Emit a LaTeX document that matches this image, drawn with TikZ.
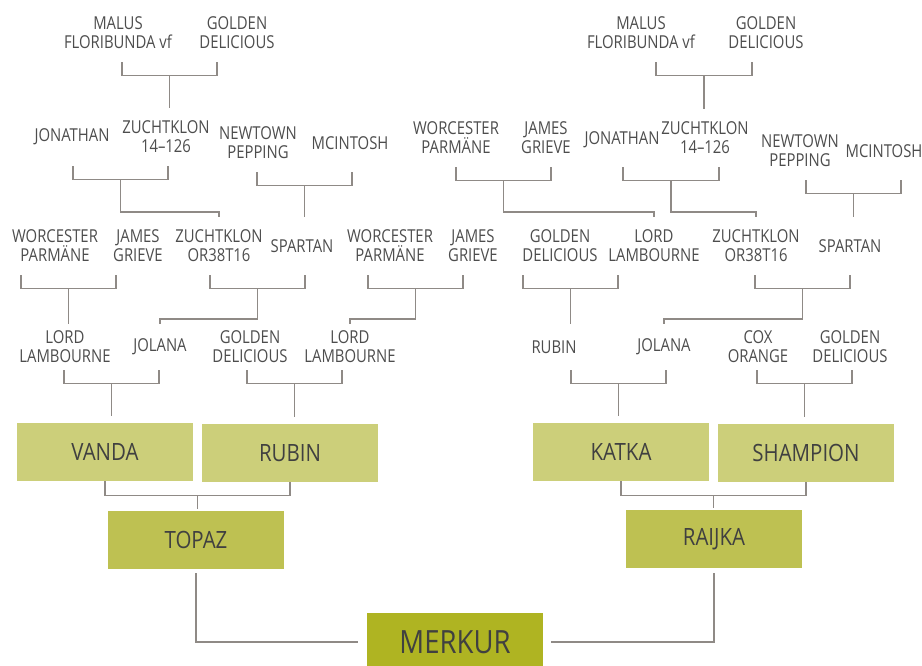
\documentclass[tikz,border=0pt]{standalone}
\usepackage{fontspec}
\setmainfont[FakeStretch=0.86]{Open Sans}
\newfontfamily\tagfont[FakeStretch=0.835]{Open Sans}
\usetikzlibrary{calc}
\definecolor{linegray}{HTML}{8F8A86}
\definecolor{txtgray}{HTML}{4D4D4D}
\definecolor{boxtext}{HTML}{404040}
\definecolor{paleolive}{HTML}{CCCF7A}
\definecolor{midolive}{HTML}{BEC152}
\definecolor{deepolive}{HTML}{AFB422}
\begin{document}
\begin{tikzpicture}[
    x=1pt, y=-1pt,
    tag/.style={align=center, inner sep=0pt, minimum height=58pt, text=txtgray,
                font=\tagfont\fontsize{17.8}{19}\selectfont},
    short/.style={minimum height=46pt},
    cult/.style={inner sep=0pt, minimum width=176pt, minimum height=58pt,
                 text=boxtext, font=\fontsize{23.8}{26}\selectfont},
    link/.style={draw=linegray, line width=1.4pt},
  ]
  \useasboundingbox (0,0) rectangle (922,665);

  \node[tag] (malA) at (118,33) {MALUS\\FLORIBUNDA vf};
  \node[tag] (golA) at (237,33) {GOLDEN\\DELICIOUS};
  \node[tag] (malB) at (641,33) {MALUS\\FLORIBUNDA vf};
  \node[tag] (golB) at (766,33) {GOLDEN\\DELICIOUS};

  \node[tag] (jonA) at (72,137) {JONATHAN};
  \node[tag] (zkA) at (166,137) {ZUCHTKLON\\14–126};
  \node[tag] (ntA) at (258,143) {NEWTOWN\\PEPPING};
  \node[tag] (mcA) at (350,143) {MCINTOSH};
  \node[tag] (wpB) at (456,138) {WORCESTER\\PARMÄNE};
  \node[tag] (jgB) at (546,138) {JAMES\\GRIEVE};
  \node[tag] (jonB) at (622,140) {JONATHAN};
  \node[tag] (zkB) at (705,138) {ZUCHTKLON\\14–126};
  \node[tag] (ntB) at (800,151) {NEWTOWN\\PEPPING};
  \node[tag] (mcB) at (884,151) {MCINTOSH};

  \node[tag] (wpC) at (55,246) {WORCESTER\\PARMÄNE};
  \node[tag] (jgC) at (138,246) {JAMES\\GRIEVE};
  \node[tag] (zorA) at (219,246) {ZUCHTKLON\\OR38T16};
  \node[tag] (spA) at (302,246) {SPARTAN};
  \node[tag] (wpD) at (390,246) {WORCESTER\\PARMÄNE};
  \node[tag] (jgD) at (473,246) {JAMES\\GRIEVE};
  \node[tag] (gdC) at (560,246) {GOLDEN\\DELICIOUS};
  \node[tag] (llB) at (654,246) {LORD\\LAMBOURNE};
  \node[tag] (zorB) at (756,246) {ZUCHTKLON\\OR38T16};
  \node[tag] (spB) at (850,246) {SPARTAN};

  \node[tag, short] (llC) at (65,347) {LORD\\LAMBOURNE};
  \node[tag, short] (joA) at (160,347) {JOLANA};
  \node[tag, short] (gdD) at (250,347) {GOLDEN\\DELICIOUS};
  \node[tag, short] (llD) at (350,347) {LORD\\LAMBOURNE};
  \node[tag, short] (rubC) at (554,347) {RUBIN};
  \node[tag, short] (joB) at (664,347) {JOLANA};
  \node[tag, short] (coxC) at (758,347) {COX\\ORANGE};
  \node[tag, short] (gdE) at (850,347) {GOLDEN\\DELICIOUS};

  \node[cult, fill=paleolive] (vanda) at (105,452) {VANDA};
  \node[cult, fill=paleolive] (rubin) at (290,453) {RUBIN};
  \node[cult, fill=paleolive] (katka) at (621,452) {KATKA};
  \node[cult, fill=paleolive] (shampion) at (806,453) {SHAMPION};
  \node[cult, fill=midolive] (topaz) at (196,540) {TOPAZ};
  \node[cult, fill=midolive] (raijka) at (714,539) {RAIJKA};
  \node[cult, fill=deepolive, font=\fontsize{32}{34}\selectfont] (merkur) at (455,642) {MERKUR};

  \draw[link] ([xshift=4pt]malA.south) -- ++(0,13) -| coordinate[pos=.25] (xmA) ([xshift=-20pt]golA.south);
  \draw[link] (xmA) -- (xmA |- zkA.north);
  \draw[link] ([xshift=15pt]malB.south) -- ++(0,13) -| coordinate[pos=.25] (xmB) ([xshift=-14pt]golB.south);
  \draw[link] (xmB) -- (xmB |- zkB.north);

  \draw[link] ([xshift=1pt]jonA.south) -- ++(0,13) -| coordinate[pos=.25] (xjA) ([xshift=2pt]zkA.south);
  \draw[link] (xjA) |- ([yshift=5pt]zorA.north) -- (zorA.north);
  \draw[link] ([xshift=-1pt]ntA.south) -- ++(0,13) -| coordinate[pos=.25] (xnA) ([xshift=2pt]mcA.south);
  \draw[link] (xnA) -- (xnA |- spA.north);
  \draw[link] (wpB.south) -- ++(0,13) -| coordinate[pos=.25] (xwB) ([xshift=5pt]jgB.south);
  \draw[link] (xwB) |- ([yshift=5pt]llB.north) -- (llB.north);
  \draw[link] ([xshift=1pt]jonB.south |- zkB.south) -- ++(0,13) -| coordinate[pos=.25] (xjB) ([xshift=14pt]zkB.south);
  \draw[link] (xjB) |- ([yshift=5pt]zorB.north) -- (zorB.north);
  \draw[link] ([xshift=6pt]ntB.south) -- ++(0,13) -| coordinate[pos=.25] (xnB) ([xshift=17pt]mcB.south);
  \draw[link] (xnB) -- (xnB |- spB.north);

  \draw[link] ([xshift=-34pt]wpC.south) -- ++(0,13) -| coordinate[pos=.25] (xwC) ([xshift=-22pt]jgC.south);
  \draw[link] (xwC) -- (xwC |- llC.north);
  \draw[link] ([xshift=-9pt]zorA.south) -- ++(0,13) -| coordinate[pos=.25] (xzA) ([xshift=3pt]spA.south);
  \draw[link] (xzA) |- ([yshift=5pt]joA.north) -- (joA.north);
  \draw[link] ([xshift=-22pt]wpD.south) -- ++(0,13) -| coordinate[pos=.25] (xwD) ([xshift=-10pt]jgD.south);
  \draw[link] (xwD) |- ([yshift=5pt]llD.north) -- (llD.north);
  \draw[link] ([xshift=-37pt]gdC.south) -- ++(0,13) -| coordinate[pos=.25] (xgC) ([xshift=-36pt]llB.south);
  \draw[link] (xgC) -- (xgC |- rubC.north);
  \draw[link] ([xshift=-1pt]zorB.south) -- ++(0,13) -| coordinate[pos=.25] (xzB) (spB.south);
  \draw[link] (xzB) |- ([yshift=5pt]joB.north) -- (joB.north);

  \draw[link] ([xshift=-1pt]llC.south) -- ++(0,13) -| coordinate[pos=.25] (xlC) ([xshift=-1pt]joA.south);
  \draw[link, shorten >=7pt] (xlC) -- (xlC |- vanda.north);
  \draw[link] ([xshift=-3pt]gdD.south) -- ++(0,13) -| coordinate[pos=.25] (xgD) ([xshift=-8pt]llD.south);
  \draw[link, shorten >=7pt] (xgD) -- (xgD |- rubin.north);
  \draw[link] ([xshift=17pt]rubC.south) -- ++(0,13) -| coordinate[pos=.25] (xrC) ([xshift=2pt]joB.south);
  \draw[link, shorten >=7pt] (xrC) -- (xrC |- katka.north);
  \draw[link] ([xshift=-1pt]coxC.south) -- ++(0,13) -| coordinate[pos=.25] (xcC) ([xshift=2pt]gdE.south);
  \draw[link, shorten >=7pt] (xcC) -- (xcC |- shampion.north);

  \draw[link] (vanda.south) -- ++(0,14) -| coordinate[pos=.25] (xvr) (rubin.south);
  \draw[link, shorten >=2pt] (xvr) -- (xvr |- topaz.north);
  \draw[link] (katka.south) -- ++(0,14) -| coordinate[pos=.25] (xks) (shampion.south);
  \draw[link, shorten >=2pt] (xks) -- (xks |- raijka.north);

  \draw[link, shorten <=4pt, shorten >=9pt] (topaz.south) |- (merkur.west);
  \draw[link, shorten <=5pt, shorten >=8pt] (raijka.south) |- (merkur.east);
\end{tikzpicture}
\end{document}
